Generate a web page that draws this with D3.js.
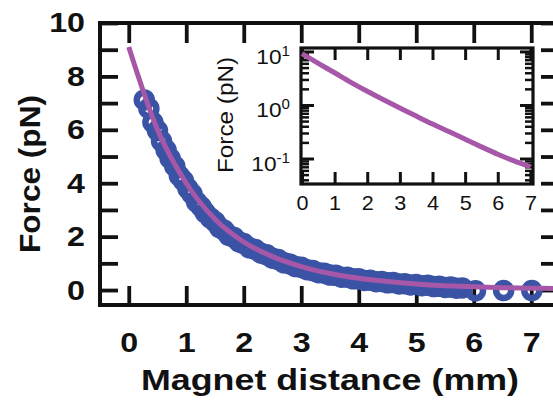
<!DOCTYPE html>
<html><head><meta charset="utf-8">
<script src="https://cdn.jsdelivr.net/npm/d3@7"></script>
<style>body{margin:0;background:#fff}svg{display:block}</style>
</head><body>
<svg id="c" width="553" height="401"></svg>
<script>
// ---- data ----
const mainXTicks = [0, 1, 2, 3, 4, 5, 6, 7];
const mainYTicks = [0, 1, 2, 3, 4, 5, 6, 7, 8, 9, 10];
const mainYLabels = [0, 2, 4, 6, 8, 10];
const dataX = [0.27,0.35,0.42,0.50,0.57,0.65,0.72,0.80,0.88,0.95,1.03,1.10,1.18,1.26,1.33,1.42,1.50,1.58,1.66,1.74,1.83,1.92,2.00,2.10,2.20,2.30,2.40,2.50,2.60,2.70,2.80,2.90,3.00,3.10,3.20,3.30,3.40,3.50,3.60,3.70,3.80,3.90,4.00,4.10,4.20,4.30,4.40,4.50,4.60,4.70,4.80,4.90,5.00,5.10,5.20,5.30,5.40,5.50,5.60,5.70,5.80,6.03,6.52,7.01];
const dataF = [7.12,6.80,6.28,5.97,5.58,5.24,4.93,4.64,4.28,4.10,3.80,3.60,3.30,3.12,2.90,2.70,2.56,2.34,2.24,2.05,1.97,1.80,1.74,1.58,1.52,1.38,1.32,1.19,1.14,1.02,0.98,0.88,0.85,0.76,0.73,0.65,0.63,0.56,0.55,0.48,0.48,0.42,0.42,0.36,0.37,0.31,0.32,0.27,0.28,0.23,0.24,0.19,0.21,0.16,0.18,0.13,0.14,0.10,0.11,0.07,0.08,-0.03,-0.02,-0.02];
const fitX = [0, 0.5, 1, 1.5, 2, 2.5, 3, 3.5, 4, 4.5, 5, 5.5, 6, 6.5, 7, 7.5];
const fitF = [9.1, 6.0, 4.0, 2.65, 1.8, 1.25, 0.88, 0.62, 0.44, 0.32, 0.23, 0.165, 0.12, 0.09, 0.07, 0.055];
const insetXTicks = [0, 1, 2, 3, 4, 5, 6, 7];
const insetYMajor = [0.1, 1, 10];
const insetYExp = ["-1", "0", "1"];
const insetYMinor = [0.04,0.05,0.06,0.07,0.08,0.09,0.2,0.3,0.4,0.5,0.6,0.7,0.8,0.9,2,3,4,5,6,7,8,9];

const BLUE = "#3a53a4", MAG = "#a757a8", INK = "#111";
const svg = d3.select("#c");
const FONT = "'Liberation Sans', Arial, Helvetica, sans-serif";
const SX = 1.15;

// ---- main plot ----
const x = d3.scaleLinear().domain([-0.5, 7.5]).range([100, 560]);
const y = d3.scaleLinear().domain([-0.56, 10]).range([305, 23]);

function styleAxis(g, w) {
  g.select(".domain").remove();
  g.selectAll(".tick line").attr("stroke", INK).attr("stroke-width", w);
}

svg.append("g").attr("transform", "translate(100,0)")
  .call(d3.axisLeft(y).tickValues(mainYTicks).tickSize(-18).tickPadding(15)
    .tickFormat(d => mainYLabels.includes(d) ? d : ""))
  .call(g => styleAxis(g, 3.8))
  .call(g => g.selectAll("text").attr("font-family", FONT).attr("font-weight", "bold")
    .attr("font-size", 28).attr("fill", INK)
    .attr("x", -15 / SX).attr("transform", `scale(${SX},1)`));

svg.append("g").attr("transform", "translate(560,0)")
  .call(d3.axisRight(y).tickValues(mainYTicks).tickSize(-19).tickFormat(""))
  .call(g => styleAxis(g, 3.8));

svg.append("g").attr("transform", "translate(0,23)")
  .call(d3.axisTop(x).tickValues(mainXTicks).tickSize(-20).tickFormat(""))
  .call(g => styleAxis(g, 3.8));

svg.append("g").attr("transform", "translate(0,305)")
  .call(d3.axisBottom(x).tickValues(mainXTicks).tickSize(-19).tickPadding(27))
  .call(g => styleAxis(g, 3.8))
  .call(g => g.selectAll("text").attr("font-family", FONT).attr("font-weight", "bold")
    .attr("font-size", 28).attr("fill", INK).attr("transform", `scale(${SX},1)`));

svg.append("rect").attr("x", 100).attr("y", 23).attr("width", 460).attr("height", 282)
  .attr("fill", "none").attr("stroke", INK).attr("stroke-width", 4);

svg.append("text").attr("x", 330).attr("y", 390).attr("text-anchor", "middle")
  .attr("font-family", FONT).attr("font-weight", "bold").attr("font-size", 29)
  .attr("fill", INK).attr("textLength", 378).attr("lengthAdjust", "spacingAndGlyphs")
  .text("Magnet distance (mm)");

svg.append("text").attr("transform", "translate(40,174) rotate(-90)").attr("text-anchor", "middle")
  .attr("font-family", FONT).attr("font-weight", "bold").attr("font-size", 30)
  .attr("fill", INK).attr("textLength", 158).attr("lengthAdjust", "spacingAndGlyphs")
  .text("Force (pN)");

const clip = svg.append("clipPath").attr("id", "mclip");
clip.append("rect").attr("x", 100).attr("y", 23).attr("width", 460).attr("height", 282);

const pts = dataX.map((d, i) => ({x: d, f: dataF[i]}));
svg.append("g").selectAll("circle").data(pts).join("circle")
  .attr("cx", d => x(d.x)).attr("cy", d => y(d.f)).attr("r", 7.5)
  .attr("fill", "none").attr("stroke", BLUE).attr("stroke-width", 6.5);

const fit = fitX.map((d, i) => ({x: d, f: fitF[i]}));
svg.append("path").datum(fit).attr("clip-path", "url(#mclip)")
  .attr("d", d3.line().x(d => x(d.x)).y(d => y(d.f)).curve(d3.curveMonotoneX))
  .attr("fill", "none").attr("stroke", MAG).attr("stroke-width", 5);

// ---- inset ----
const xi = d3.scaleLinear().domain([-0.03, 7.08]).range([301, 533]);
const yi = d3.scaleLog().domain([0.0334, 11.6]).range([184, 48]);

svg.append("rect").attr("x", 301).attr("y", 48).attr("width", 232).attr("height", 136)
  .attr("fill", "#fff");

svg.append("g").attr("transform", "translate(301,0)")
  .call(d3.axisLeft(yi).tickValues(insetYMinor).tickSize(-8).tickFormat(""))
  .call(g => styleAxis(g, 2.5));
svg.append("g").attr("transform", "translate(533,0)")
  .call(d3.axisRight(yi).tickValues(insetYMinor).tickSize(-8).tickFormat(""))
  .call(g => styleAxis(g, 2.5));
svg.append("g").attr("transform", "translate(301,0)")
  .call(d3.axisLeft(yi).tickValues(insetYMajor).tickSize(-13).tickPadding(11).tickFormat(""))
  .call(g => styleAxis(g, 3))
  .call(g => g.selectAll(".tick").each(function(d, i) {
    const t = d3.select(this).select("text").text(null)
      .attr("font-family", FONT).attr("font-size", 21).attr("fill", INK)
      .attr("dy", "0.55em").attr("x", -11 / 1.08).attr("transform", "scale(1.08,1)");
    t.append("tspan").text("10");
    t.append("tspan").attr("dy", "-0.55em").attr("font-size", 14).text(insetYExp[i]);
  }));
svg.append("g").attr("transform", "translate(533,0)")
  .call(d3.axisRight(yi).tickValues(insetYMajor).tickSize(-13).tickFormat(""))
  .call(g => styleAxis(g, 3));
svg.append("g").attr("transform", "translate(0,48)")
  .call(d3.axisTop(xi).tickValues(insetXTicks).tickSize(-12).tickFormat(""))
  .call(g => styleAxis(g, 3));
svg.append("g").attr("transform", "translate(0,184)")
  .call(d3.axisBottom(xi).tickValues(insetXTicks).tickSize(-12).tickPadding(12))
  .call(g => styleAxis(g, 3))
  .call(g => g.selectAll("text").attr("font-family", FONT).attr("font-size", 20)
    .attr("fill", INK).attr("transform", "scale(1.08,1)"));

svg.append("rect").attr("x", 301).attr("y", 48).attr("width", 232).attr("height", 136)
  .attr("fill", "none").attr("stroke", INK).attr("stroke-width", 3.2);

svg.append("text").attr("transform", "translate(233,115) rotate(-90)").attr("text-anchor", "middle")
  .attr("font-family", FONT).attr("font-size", 22).attr("fill", INK)
  .attr("textLength", 116).attr("lengthAdjust", "spacingAndGlyphs")
  .text("Force (pN)");

const fitIn = fit.filter(d => d.x <= 7);
svg.append("path").datum(fitIn)
  .attr("d", d3.line().x(d => xi(d.x)).y(d => yi(d.f)).curve(d3.curveMonotoneX))
  .attr("fill", "none").attr("stroke", MAG).attr("stroke-width", 5);
</script>
</body></html>
